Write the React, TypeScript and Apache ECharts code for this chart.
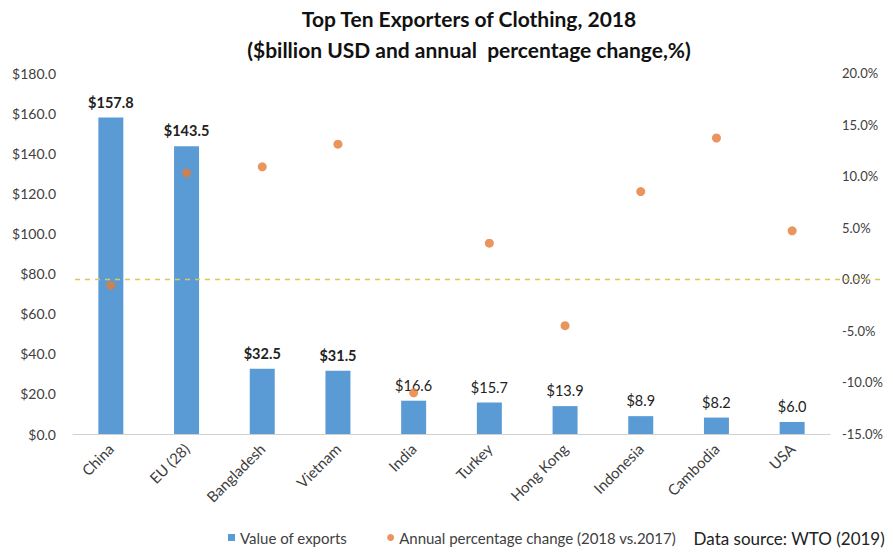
import React, { useEffect, useRef } from "react";
import * as echarts from "echarts";

const categories = ["China", "EU (28)", "Bangladesh", "Vietnam", "India", "Turkey", "Hong Kong", "Indonesia", "Cambodia", "USA"];
const exportValues = [157.8, 143.5, 32.5, 31.5, 16.6, 15.7, 13.9, 8.9, 8.2, 6.0];
const boldLabels = [true, true, true, true, false, false, false, false, false, false];
const pctChange = [-0.6, 10.3, 10.9, 13.1, -11.0, 3.5, -4.5, 8.5, 13.7, 4.7];

const FONT = "Lato";

export default function App() {
  const ref = useRef<HTMLDivElement>(null);
  useEffect(() => {
    if (!ref.current) return;
    const chart = echarts.init(ref.current, null, { renderer: "svg" });
    chart.setOption({
      animation: false,
      backgroundColor: "#ffffff",
      textStyle: { fontFamily: FONT },
      title: {
        text: "Top Ten Exporters of Clothing, 2018\n($billion USD and annual  percentage change,%)",
        left: 464,
        textAlign: "center",
        top: -2,
        textStyle: { fontFamily: FONT, fontSize: 21, fontWeight: "bold", color: "#111", lineHeight: 31 },
      },
      legend: {
        bottom: 6,
        left: 223,
        itemWidth: 7,
        itemHeight: 7,
        itemGap: 40,
        textStyle: { fontFamily: FONT, fontSize: 15, color: "#404040" },
        data: [
          { name: "Value of exports", icon: "rect" },
          { name: "Annual percentage change (2018 vs.2017)", icon: "circle" },
        ],
      },
      graphic: [
        {
          type: "text",
          right: 8,
          bottom: 9,
          style: { text: "Data source: WTO (2019)", fontFamily: FONT, fontSize: 17, fill: "#222" },
        },
      ],
      grid: { left: 73, right: 63, top: 73, bottom: 122 },
      xAxis: {
        type: "category",
        data: categories,
        axisLine: { lineStyle: { color: "#d0d0d0" } },
        axisTick: { show: false },
        axisLabel: { rotate: 45, fontFamily: FONT, fontSize: 15, color: "#404040", margin: 12 },
      },
      yAxis: [
        {
          type: "value",
          min: 0,
          max: 180,
          interval: 20,
          splitLine: { show: false },
          axisLine: { show: false },
          axisTick: { show: false },
          axisLabel: { formatter: (v: number) => "$" + v.toFixed(1), fontFamily: FONT, fontSize: 14, color: "#404040", margin: 17 },
        },
        {
          type: "value",
          min: -15,
          max: 20,
          interval: 5,
          splitLine: { show: false },
          axisLine: { show: false },
          axisTick: { show: false },
          axisLabel: { formatter: (v: number) => v.toFixed(1) + "%", fontFamily: FONT, fontSize: 13, color: "#404040", margin: 12 },
        },
      ],
      series: [
        {
          name: "Value of exports",
          type: "bar",
          data: exportValues.map((v, i) => ({
            value: v,
            label: { fontWeight: boldLabels[i] ? "bold" : "normal" },
          })),
          barWidth: "33%",
          itemStyle: { color: "#5B9BD5" },
          label: {
            show: true,
            position: "top",
            distance: 8,
            formatter: (p: any) => "$" + Number(p.value).toFixed(1),
            fontFamily: FONT,
            fontSize: 14.5,
            color: "#222",
          },
          z: 2,
        },
        {
          name: "Annual percentage change (2018 vs.2017)",
          type: "scatter",
          yAxisIndex: 1,
          data: pctChange,
          symbolSize: 9,
          clip: false,
          itemStyle: { color: "#E57B36" },
          z: 3,
          markLine: {
            silent: true,
            symbol: "none",
            label: { show: false },
            lineStyle: { color: "#d6c95a", type: [5, 5], width: 1.4, opacity: 1 },
            data: [[{ coord: [0, 0], x: 75 }, { coord: [9, 0], x: 893 }]],
          },
        },
      ],
    });
    return () => chart.dispose();
  }, []);
  return <div ref={ref} style={{ width: 893, height: 556, margin: -8 }} />;
}
